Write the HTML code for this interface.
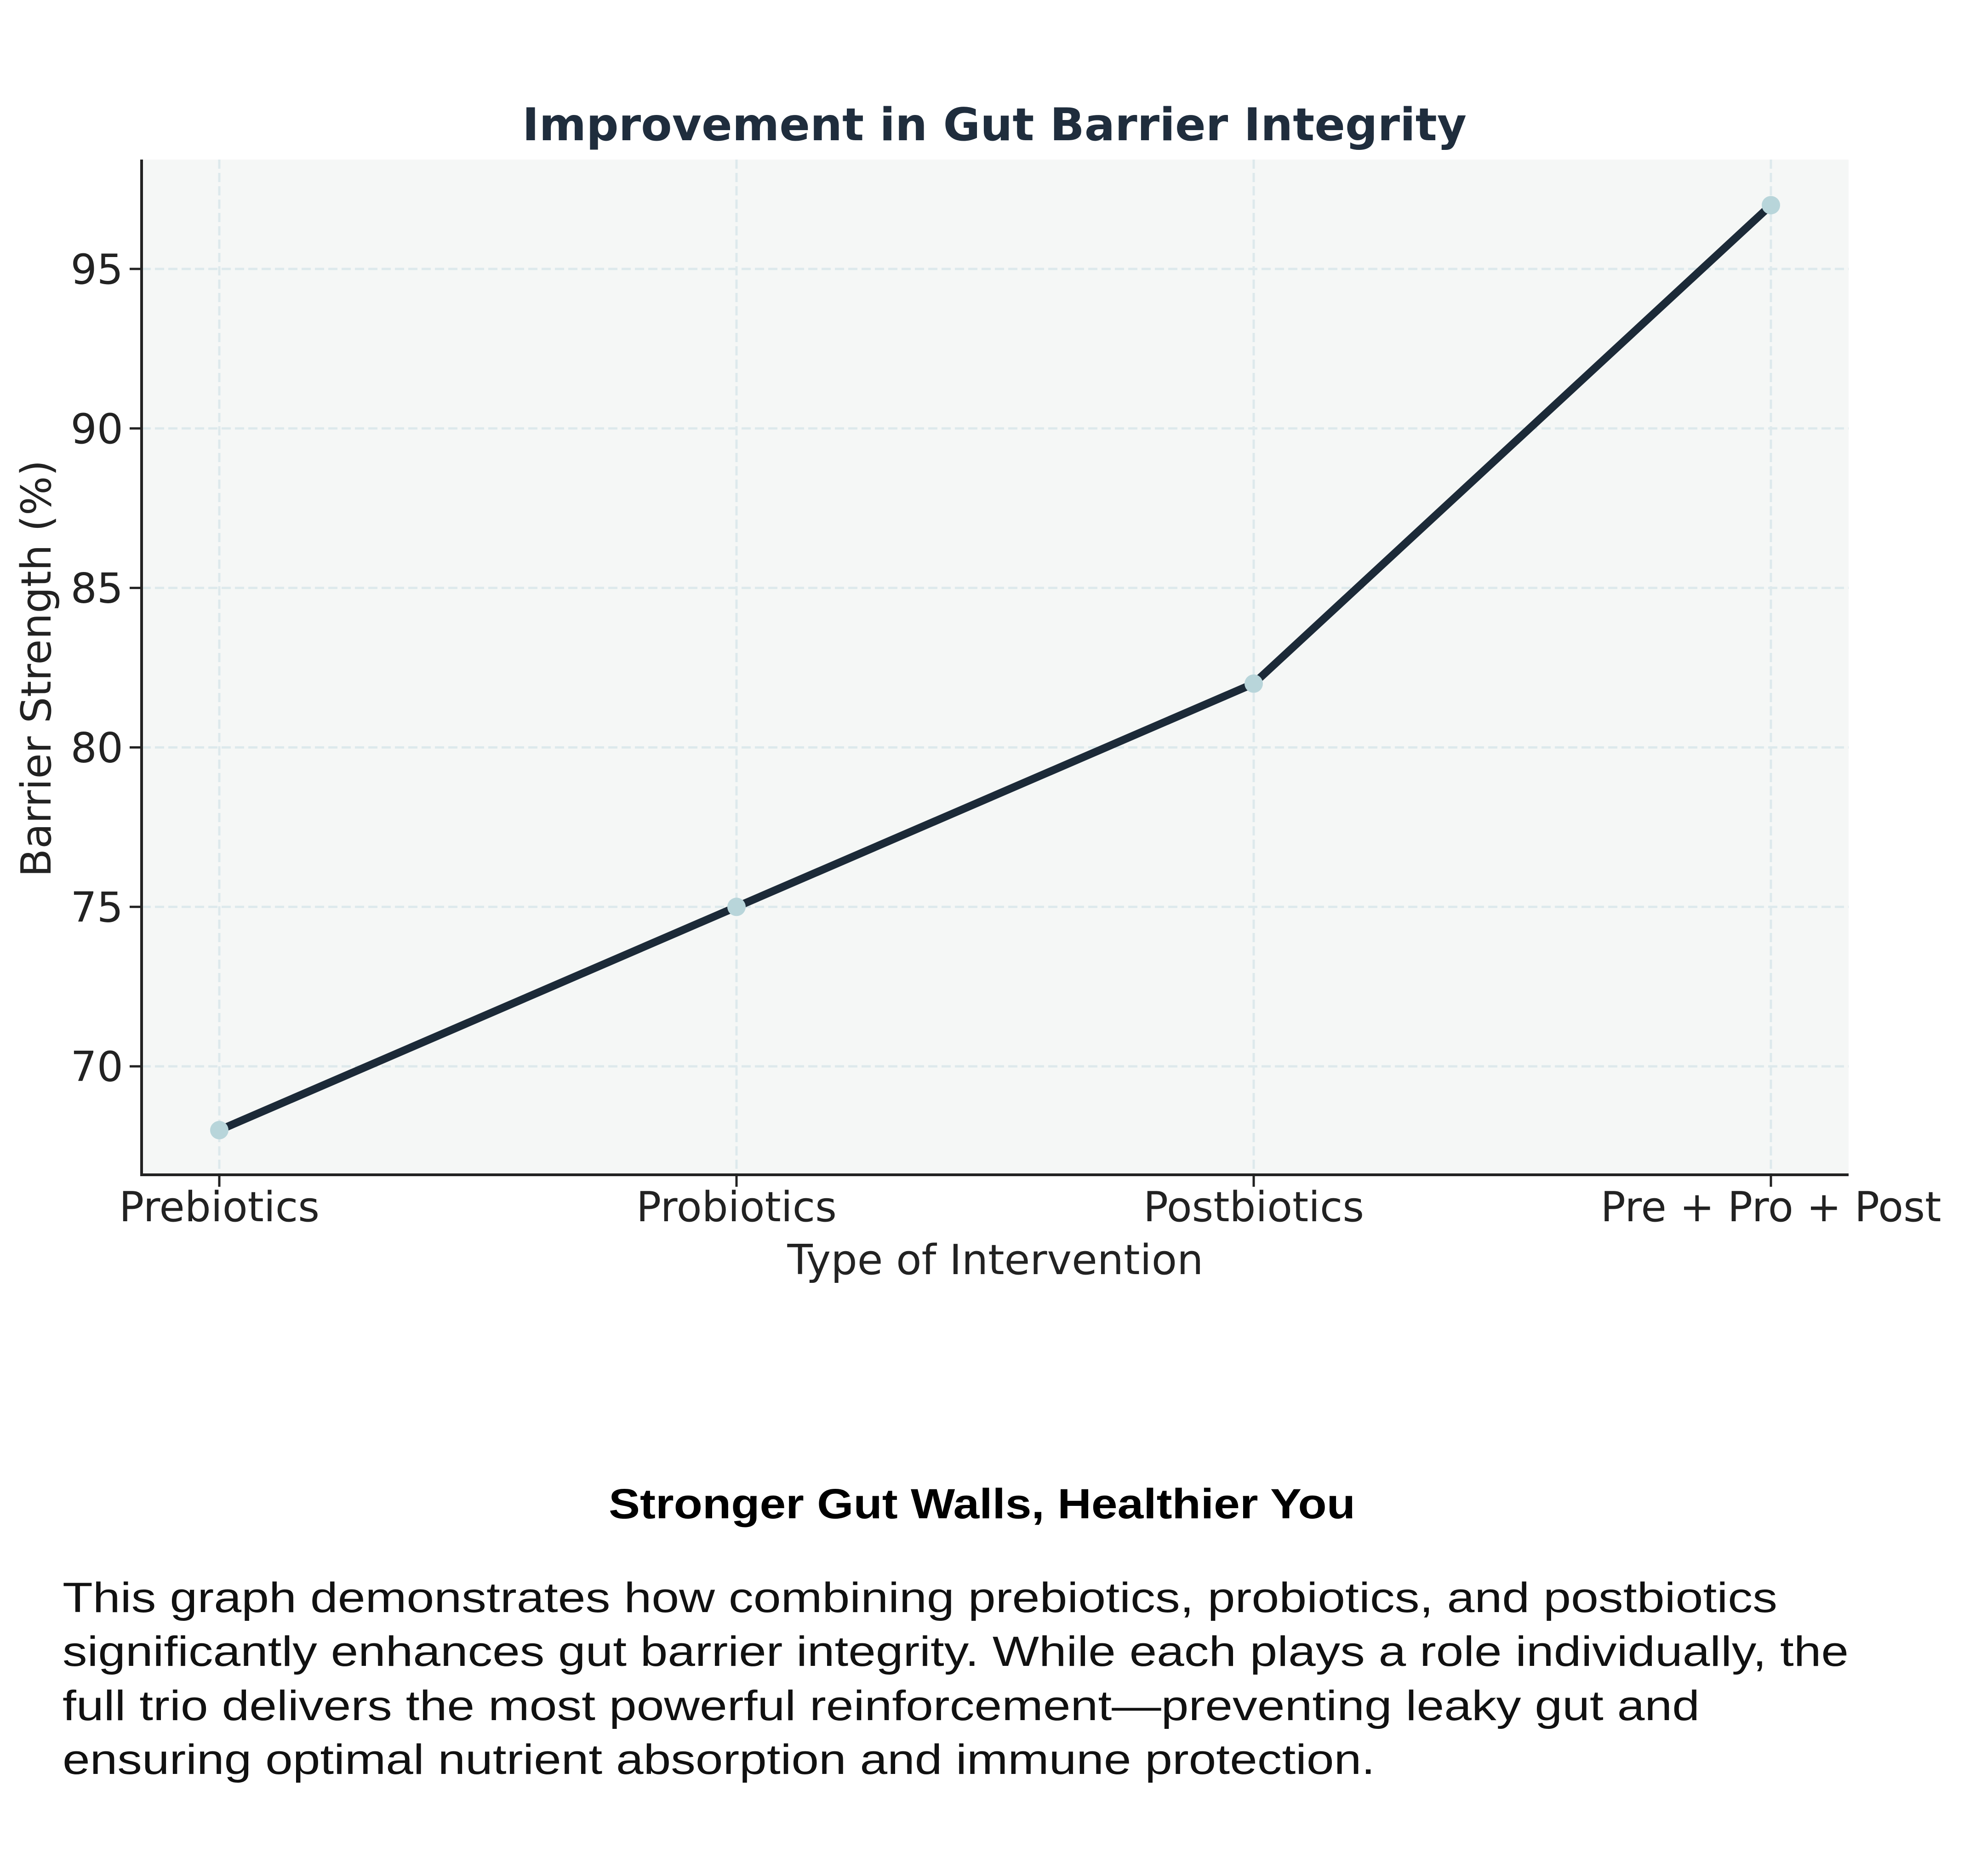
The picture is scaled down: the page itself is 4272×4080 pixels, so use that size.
<!DOCTYPE html>
<html><head><meta charset="utf-8"><style>
html,body{margin:0;padding:0;background:#fff;}
svg{display:block;}
</style></head><body>
<svg id="chart" width="4272" height="4080" viewBox="0 0 4272 4080" xmlns="http://www.w3.org/2000/svg">
<rect width="4272" height="4080" fill="#fff"/>
<g id="plot"></g>
<text x="2163" y="305" text-anchor="middle" font-family="DejaVu Sans, sans-serif" font-weight="bold" font-size="98" fill="#1f2d3d" textLength="2054" lengthAdjust="spacingAndGlyphs">Improvement in Gut Barrier Integrity</text>
<text x="2165" y="2771" text-anchor="middle" font-family="DejaVu Sans, sans-serif" font-size="90" fill="#222" textLength="905" lengthAdjust="spacingAndGlyphs">Type of Intervention</text>
<text transform="translate(110,1454) rotate(-90)" text-anchor="middle" font-family="DejaVu Sans, sans-serif" font-size="90" fill="#222" textLength="907" lengthAdjust="spacingAndGlyphs">Barrier Strength (%)</text>
<text x="2136" y="3302" text-anchor="middle" font-family="Liberation Sans, sans-serif" font-weight="bold" font-size="92" fill="#000" textLength="1624" lengthAdjust="spacingAndGlyphs">Stronger Gut Walls, Healthier You</text>
<g font-family="Liberation Sans, sans-serif" font-size="92" fill="#111">
<text x="136" y="3506" textLength="3730" lengthAdjust="spacingAndGlyphs">This graph demonstrates how combining prebiotics, probiotics, and postbiotics</text>
<text x="136" y="3623" textLength="3885" lengthAdjust="spacingAndGlyphs">significantly enhances gut barrier integrity. While each plays a role individually, the</text>
<text x="136" y="3741" textLength="3561" lengthAdjust="spacingAndGlyphs">full trio delivers the most powerful reinforcement—preventing leaky gut and</text>
<text x="136" y="3858" textLength="2855" lengthAdjust="spacingAndGlyphs">ensuring optimal nutrient absorption and immune protection.</text>
</g>
</svg>
<script>
const categories = ["Prebiotics", "Probiotics", "Postbiotics", "Pre + Pro + Post"];
const barrierValues = [68, 75, 82, 97];
const yTickValues = [70, 75, 80, 85, 90, 95];
const catLabelWidths = [436, 436, 480, 741];

const NS = "http://www.w3.org/2000/svg";
const L = 308, R = 4021, T = 347, B = 2555;
const yMin = 66.6, yMax = 98.43;
const x0 = 477, xStep = 1125;
function xScale(i){ return x0 + i * xStep; }
function yScale(v){ return B - (v - yMin) / (yMax - yMin) * (B - T); }
const g = document.getElementById('plot');
function mk(tag, attrs){ const e = document.createElementNS(NS, tag); for (const k in attrs) e.setAttribute(k, attrs[k]); g.appendChild(e); return e; }

const bg = mk('rect', {x:L, y:T, width:R-L, height:B-T, fill:'#f5f7f6'});



yTickValues.forEach(v => {
  const y = yScale(v);
  const gl = mk('line', {x1:L, x2:R, y1:y, y2:y, stroke:'#dde9ec', 'stroke-width':5, 'stroke-dasharray':'20 9'});
  
  
  const tk = mk('line', {x1:L-26, x2:L, y1:y, y2:y, stroke:'#222', 'stroke-width':5});
  
  
  const t = mk('text', {x:L-40, y:y+32, 'text-anchor':'end', 'font-family':'DejaVu Sans, sans-serif', 'font-size':90, fill:'#222'});
  t.textContent = v;
  
  
});
categories.forEach((c, i) => {
  const x = xScale(i);
  const gl = mk('line', {x1:x, x2:x, y1:T, y2:B, stroke:'#dde9ec', 'stroke-width':5, 'stroke-dasharray':'20 9'});
  
  
  const tk = mk('line', {x1:x, x2:x, y1:B, y2:B+26, stroke:'#222', 'stroke-width':5});
  
  
  const t = mk('text', {x:x, y:2656, 'text-anchor':'middle', 'font-family':'DejaVu Sans, sans-serif', 'font-size':90, fill:'#222', textLength:catLabelWidths[i], lengthAdjust:'spacingAndGlyphs'});
  t.textContent = c;
  
  
});

const ax1 = mk('line', {x1:L, x2:L, y1:T, y2:B+3, stroke:'#222', 'stroke-width':6});


const ax2 = mk('line', {x1:L-3, x2:R, y1:B, y2:B, stroke:'#222', 'stroke-width':6});



const pts = barrierValues.map((v, i) => xScale(i) + ',' + yScale(v)).join(' ');
const line = mk('polyline', {points:pts, fill:'none', stroke:'#1c2a38', 'stroke-width':17, 'stroke-linejoin':'round', 'stroke-linecap':'round'});


barrierValues.forEach((v, i) => {
  const c = mk('circle', {cx:xScale(i), cy:yScale(v), r:20, fill:'#b8d5da'});
  
  
});
</script>
</body></html>
